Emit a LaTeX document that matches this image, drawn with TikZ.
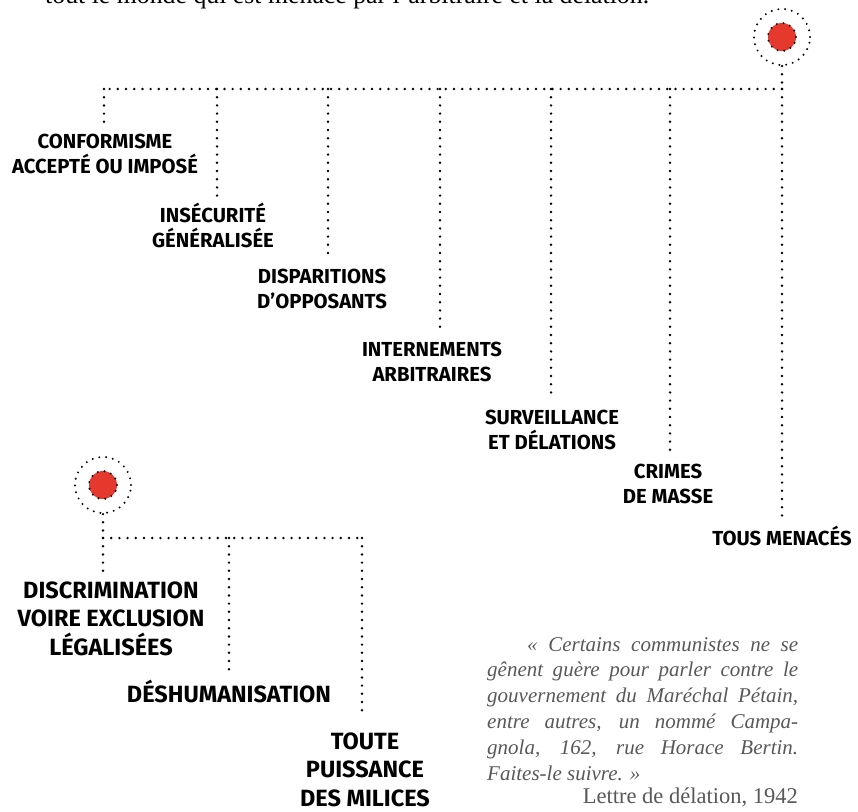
\documentclass[tikz,border=0pt]{standalone}
\usepackage{fontspec}
\setmainfont{Liberation Serif}
\newfontfamily\tagfont{Fira Sans}
\usetikzlibrary{positioning}
\definecolor{alarmred}{RGB}{229,57,46}
\definecolor{quotegray}{RGB}{88,88,88}

\begin{document}
\begin{tikzpicture}[x=1pt, y=-1pt,
    dotline/.style={line width=2.7pt, line cap=round, dash pattern=on 0pt off 8.2pt},
    ring/.style={draw, circle, inner sep=0pt, line width=2.2pt, line cap=round, dash pattern=on 0pt off 6.8pt},
    tag/.style={font=\tagfont\bfseries\fontsize{20.3}{24.5}\selectfont, align=center, inner sep=0pt, anchor=base},
    bigtag/.style={tag, font=\tagfont\bfseries\fontsize{23.5}{28.5}\selectfont}]

    \useasboundingbox (0,0) rectangle (858,811);

    % Line of text cut by the top edge
    \node[anchor=base west, inner sep=0pt, font=\fontsize{25.8}{30}\selectfont] (intro) at (45,3.5) {tout le monde qui est menacé par l’arbitraire et la délation.};

    % Upper target
    \node[circle, fill=alarmred, ring, minimum size=28pt] (topdot) at (782,37) {};
    \node[ring, minimum size=56pt] (topring) at (topdot) {};

    % Junctions on the upper line
    \coordinate (topj) at (782,89);
    \coordinate (jconf) at (104,89);
    \coordinate (jinsec) at (217,89);
    \coordinate (jdisp) at (328,89);
    \coordinate (jintern) at (440,89);
    \coordinate (jsurv) at (551,89);
    \coordinate (jcrime) at (670,89);

    % Ends of the drops
    \coordinate (econf) at (104,123);
    \coordinate (einsec) at (217,200);
    \coordinate (edisp) at (328,256);
    \coordinate (eintern) at (440,328);
    \coordinate (esurv) at (551,397);
    \coordinate (ecrime) at (670,453);
    \coordinate (etous) at (782,518);

    % Draw the upper line and drops
    \draw[dotline] (topring.south) -- (topj);
    \draw[dotline] (topj) -- (jconf);
    \draw[dotline] (topj) -- (etous);
    \draw[dotline] (jconf) -- (econf);
    \draw[dotline] (jinsec) -- (einsec);
    \draw[dotline] (jdisp) -- (edisp);
    \draw[dotline] (jintern) -- (eintern);
    \draw[dotline] (jsurv) -- (esurv);
    \draw[dotline] (jcrime) -- (ecrime);

    % Upper labels (base = last line)
    \node[tag] (conf) at (105,173) {CONFORMISME\\ACCEPTÉ OU IMPOSÉ};
    \node[tag] (insec) at (213,247) {INSÉCURITÉ\\GÉNÉRALISÉE};
    \node[tag] (disp) at (322,308) {DISPARITIONS\\D’OPPOSANTS};
    \node[tag] (intern) at (432,381) {INTERNEMENTS\\ARBITRAIRES};
    \node[tag] (surv) at (552,449) {SURVEILLANCE\\ET DÉLATIONS};
    \node[tag] (crime) at (668,503) {CRIMES\\DE MASSE};
    \node[tag] (tous) at (782,545) {TOUS MENACÉS};

    % Lower target
    \node[circle, fill=alarmred, ring, minimum size=28pt] (lowdot) at (103,485) {};
    \node[ring, minimum size=56pt] (lowring) at (lowdot) {};

    \coordinate (lowj) at (103,538);
    \coordinate (jdesh) at (229,538);
    \coordinate (jmilice) at (362,538);
    \coordinate (ediscr) at (103,572);
    \coordinate (edesh) at (229,672);
    \coordinate (emilice) at (362,713);

    % Draw the lower line and drops
    \draw[dotline] (lowring.south) -- (lowj);
    \draw[dotline] (lowj) -- (jmilice);
    \draw[dotline] (lowj) -- (ediscr);
    \draw[dotline] (jdesh) -- (edesh);
    \draw[dotline] (jmilice) -- (emilice);

    % Lower labels
    \node[bigtag] (discr) at (111,655) {DISCRIMINATION\\VOIRE EXCLUSION\\LÉGALISÉES};
    \node[bigtag] (desh) at (229,702) {DÉSHUMANISATION};
    \node[bigtag] (milice) at (365,806) {TOUTE\\PUISSANCE\\DES MILICES};

    % Quote
    \node[anchor=base west, inner sep=0pt, align=left, text=quotegray,
          font=\itshape\fontsize{21}{25.8}\selectfont] (quote) at (487,780)
        {\hspace*{40pt}\makebox[271pt][s]{« Certains communistes ne se}\\
         \makebox[311pt][s]{gênent guère pour parler contre le}\\
         \makebox[311pt][s]{gouvernement du Maréchal Pétain,}\\
         \makebox[311pt][s]{entre autres, un nommé Campa-}\\
         \makebox[311pt][s]{gnola, 162, rue Horace Bertin.}\\
         Faites-le suivre. »};
    \node[anchor=base east, inner sep=0pt, text=quotegray,
          font=\fontsize{22.5}{26}\selectfont] (source) at (798,803) {Lettre de délation, 1942};

\end{tikzpicture}
\end{document}
